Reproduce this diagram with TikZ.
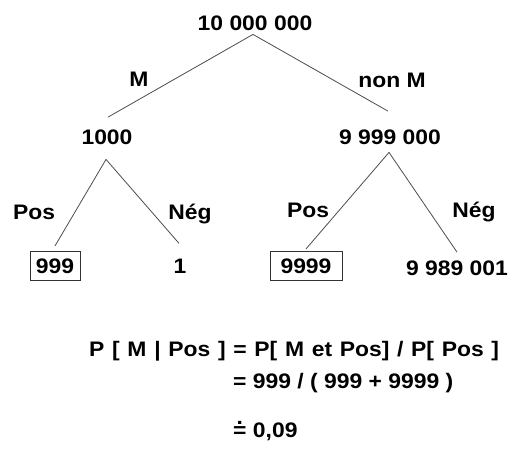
\documentclass[tikz,border=0pt]{standalone}
\usepackage{fontspec}
\setmainfont{Liberation Sans}[FakeStretch=1.09]
\usetikzlibrary{positioning}

% equal sign with a dot on top
\newcommand\dotegal{\ooalign{=\cr\hidewidth\raisebox{.58em}{.}\hidewidth\cr}}

\begin{document}
\begin{tikzpicture}[
    x=1pt, y=-1pt,
    % GLOBAL CFG
    font=\fontsize{21}{25}\selectfont\bfseries,
    % Styles
    count/.style={% For the counts in the tree
        inner sep=0pt,
        anchor=base,
        },
    kept/.style={% For the counts that are boxed
        draw=black!80,
        line width=.8pt,
        inner xsep=6pt,
        inner ysep=7pt,
        anchor=base,
        },
    branch/.style={% For the branches
        draw=black!70,
        line width=.8pt,
        },
    mylabel/.style={% Branch names
        inner sep=0pt,
        anchor=base,
        },
    eqline/.style={% Lines of the computation
        inner sep=0pt,
        anchor=base west,
        }
    ]

\useasboundingbox (0,0) rectangle (510,450);

    % Draw the counts: root, then level 1, then leaves
    \node [count] (total) at (255,30) {10 000 000};
    \node [count] (malade) at (107,144) {1000};
    \node [count] (sain) at (390,144) {9 999 000};

    \node [kept] (vraiPos) at (55,273) {999};
    \node [count] (fauxNeg) at (180,273) {1};
    \node [kept, minimum width=72pt] (fauxPos) at (306,273) {9999};
    \node [count] (vraiNeg) at (457,275) {9 989 001};

    % Draw the branch names
    \node [mylabel] (lM) at (139,86) {M};
    \node [mylabel] (lnonM) at (392,87) {non M};
    \node [mylabel] (lPos1) at (34,219) {Pos};
    \node [mylabel] (lNeg1) at (190,219) {Nég};
    \node [mylabel] (lPos2) at (308,217) {Pos};
    \node [mylabel] (lNeg2) at (474,217) {Nég};

% Start connecting all.
    \draw [branch] ([shift={(-2pt,-4pt)}]total.south) -- ([shift={(1pt,12pt)}]malade.north);
    \draw [branch] ([shift={(-2pt,-4pt)}]total.south) -- ([shift={(-2pt,18pt)}]sain.north);

    \draw [branch] ([shift={(-1pt,-15pt)}]malade.south) -- ([shift={(0pt,5pt)}]vraiPos.north);
    \draw [branch] ([shift={(-1pt,-15pt)}]malade.south) -- ([shift={(-1pt,15pt)}]fauxNeg.north);

    \draw [branch] ([shift={(-1pt,-8pt)}]sain.south) -- ([shift={(0pt,2pt)}]fauxPos.north);
    \draw [branch] ([shift={(-1pt,-8pt)}]sain.south) -- ([shift={(0pt,8pt)}]vraiNeg.north);

    % The computation below the tree
    \node [eqline] (eq1) at (89,356) {\spaceskip=7.7pt P [ M | Pos ] = P[ M et Pos] / P[ Pos ]};
    \node [eqline] (eq2) at (233,388) {= 999 / ( 999 + 9999 )};
    \node [eqline] (eq3) at (233,437) {\dotegal{} 0,09};

\end{tikzpicture}
\end{document}
